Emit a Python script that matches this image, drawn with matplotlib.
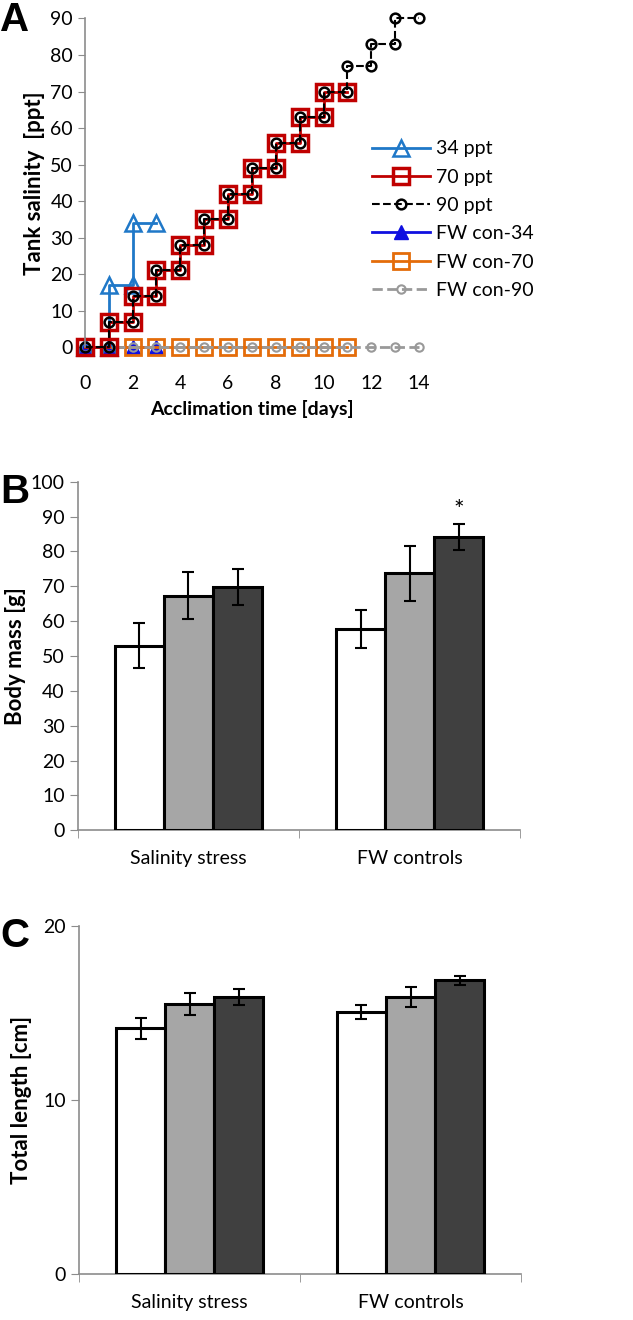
import matplotlib.pyplot as plt
import numpy as np

plt.rcParams['font.family'] = ['Lato', 'DejaVu Sans']

# panel A: tank salinity steps
days_34 = [0, 1, 1, 2, 2, 3]
sal_34 = [0, 0, 17, 17, 34, 34]
days_70 = [0, 1, 1, 2, 2, 3, 3, 4, 4, 5, 5, 6, 6, 7, 7, 8, 8, 9, 9, 10, 10, 11]
sal_70 = [0, 0, 7, 7, 14, 14, 21, 21, 28, 28, 35, 35, 42, 42, 49, 49, 56, 56, 63, 63, 70, 70]
days_90 = [0, 1, 1, 2, 2, 3, 3, 4, 4, 5, 5, 6, 6, 7, 7, 8, 8, 9, 9, 10, 10, 11, 11, 12, 12, 13, 13, 14]
sal_90 = [0, 0, 7, 7, 14, 14, 21, 21, 28, 28, 35, 35, 42, 42, 49, 49, 56, 56, 63, 63, 70, 70,
          77, 77, 83, 83, 90, 90]
days_fw34 = [0, 1, 2, 3]
sal_fw34 = [0, 0, 0, 0]
days_fw70 = [0, 1, 2, 3, 4, 5, 6, 7, 8, 9, 10, 11]
sal_fw70 = [0] * 12
days_fw90 = [0, 1, 2, 3, 4, 5, 6, 7, 8, 9, 10, 11, 12, 13, 14]
sal_fw90 = [0] * 15

# panels B and C
groups = ['Salinity stress', 'FW controls']
mass = [[53, 67.3, 69.9], [57.8, 73.7, 84.1]]
mass_err = [[6.5, 6.8, 5.2], [5.4, 8.0, 3.7]]
length = [[14.1, 15.5, 15.9], [15.05, 15.9, 16.85]]
length_err = [[0.6, 0.64, 0.48], [0.42, 0.58, 0.28]]
bar_colors = ['white', '#a6a6a6', '#404040']

fig = plt.figure(figsize=(6.33, 13.2), dpi=100)
grey = '#8c8c8c'

# ---- A ----
ax = fig.add_axes([0.134, 0.737, 0.528, 0.249])
ax.plot(days_fw34, sal_fw34, '-^', color='#1010e0', ms=10, lw=2, clip_on=False, label='FW con-34')
ax.plot(days_fw70, sal_fw70, '-s', color='#e46c0a', mfc='none', mew=2, ms=11, lw=2,
        clip_on=False, label='FW con-70')
ax.plot(days_fw90, sal_fw90, '--o', color='#999999', mfc='none', mew=1.5, ms=6, lw=2,
        clip_on=False, label='FW con-90')
ax.plot(days_34, sal_34, '-^', color='#1f78c8', mfc='none', mew=1.8, ms=12, lw=2,
        clip_on=False, label='34 ppt')
ax.plot(days_70, sal_70, '-s', color='#c00000', mfc='none', mew=2.5, ms=11, lw=2,
        clip_on=False, label='70 ppt')
ax.plot(days_90, sal_90, '--o', color='black', mfc='none', mew=1.8, ms=7, lw=1.5,
        clip_on=False, label='90 ppt')
ax.set_xlim(0, 14)
ax.set_ylim(0, 90)
ax.set_yticks(range(0, 91, 10))
ax.set_xticks(range(0, 15, 2))
for s in ['top', 'right', 'bottom']:
    ax.spines[s].set_visible(False)
ax.spines['left'].set_color(grey)
ax.spines['left'].set_linewidth(1.2)
ax.tick_params(axis='y', color=grey, length=5, labelsize=14)
ax.tick_params(axis='x', length=0, labelsize=14, pad=20)
ax.set_xlabel('Acclimation time [days]', fontsize=14, fontweight='bold', labelpad=6)
ax.set_ylabel('Tank salinity  [ppt]', fontsize=16, fontweight='bold', labelpad=4)
h, l = ax.get_legend_handles_labels()
order = [3, 4, 5, 0, 1, 2]
ax.legend([h[i] for i in order], [l[i] for i in order], loc='upper left',
          bbox_to_anchor=(0.572, 0.901), bbox_transform=fig.transFigure,
          frameon=False, fontsize=14, handlelength=3, handletextpad=0.3, labelspacing=0.58,
          borderpad=0)
fig.text(0.0, 0.999, 'A', fontsize=29, fontweight='bold', family='Liberation Sans', va='top')


def bars(ax, vals, errs, ylim, yticks, ylabel, pad):
    x = np.arange(len(groups))
    w = 0.222
    for j in range(3):
        v = [vals[g][j] for g in range(len(groups))]
        e = [errs[g][j] for g in range(len(groups))]
        ax.bar(x + (j - 1) * w, v, w, color=bar_colors[j], edgecolor='black', linewidth=2.2,
               yerr=e, capsize=4, error_kw=dict(elinewidth=1.5, capthick=1.5, ecolor='black'),
               zorder=3)
    ax.set_xlim(-0.5, 1.5)
    ax.set_ylim(*ylim)
    ax.set_yticks(yticks)
    ax.set_xticks(x)
    ax.set_xticklabels(groups)
    ax.set_xticks([-0.5, 0.5, 1.5], minor=True)
    ax.tick_params(axis='x', which='major', length=0, labelsize=14, pad=14)
    ax.tick_params(axis='x', which='minor', length=6, color=grey, direction='out')
    ax.tick_params(axis='y', color=grey, length=6, labelsize=14)
    for s in ['top', 'right']:
        ax.spines[s].set_visible(False)
    for s in ['left', 'bottom']:
        ax.spines[s].set_color(grey)
        ax.spines[s].set_linewidth(1.2)
    ax.set_ylabel(ylabel, fontsize=16, fontweight='bold', labelpad=pad)


# ---- B ----
axb = fig.add_axes([0.123, 0.371, 0.699, 0.264])
bars(axb, mass, mass_err, (0, 100), range(0, 101, 10), 'Body mass [g]', 3)
axb.text(1 + 0.222, mass[1][2] + mass_err[1][2] + 0.8, '*', ha='center', va='bottom', fontsize=18)
fig.text(0.0, 0.642, 'B', fontsize=29, fontweight='bold', family='Liberation Sans', va='top')

# ---- C ----
axc = fig.add_axes([0.125, 0.0348, 0.698, 0.264])
bars(axc, length, length_err, (0, 20), [0, 10, 20], 'Total length [cm]', 8)
fig.text(0.0, 0.305, 'C', fontsize=29, fontweight='bold', family='Liberation Sans', va='top')

fig.savefig('out.png', dpi=100)
